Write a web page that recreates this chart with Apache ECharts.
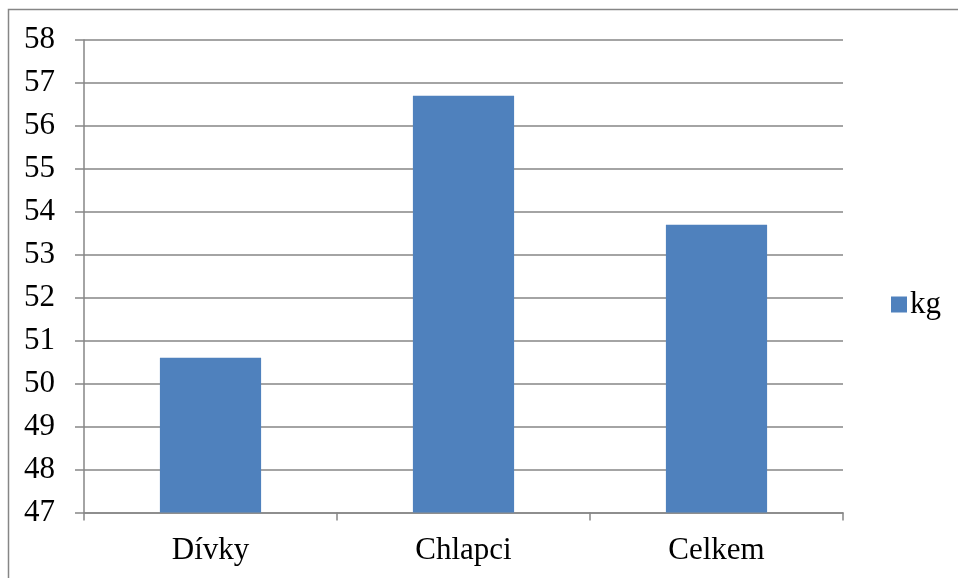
<!DOCTYPE html>
<html>
<head>
<meta charset="utf-8">
<script src="https://cdn.jsdelivr.net/npm/echarts@6/dist/echarts.min.js"></script>
<style>
  html, body { margin: 0; padding: 0; background: #fff; }
  #chart { width: 958px; height: 578px; }
</style>
</head>
<body>
<div id="chart"></div>
<script>
// Průměrná hmotnost (kg)
const categories = ['Dívky', 'Chlapci', 'Celkem'];
const kgValues = [50.6, 56.7, 53.7];
const seriesName = 'kg';
const yMin = 47;
const yMax = 58;
const yStep = 1;

const FONT = '"Liberation Serif", "Times New Roman", serif';
const LINE = '#868686';

const chart = echarts.init(document.getElementById('chart'), null, { renderer: 'canvas' });
chart.setOption({
  animation: false,
  backgroundColor: '#fff',
  textStyle: { fontFamily: FONT },
  graphic: [{
    type: 'rect',
    shape: { x: 8.5, y: 9.5, width: 1200, height: 1200 },
    style: { fill: 'none', stroke: LINE, lineWidth: 1.5 },
    silent: true
  }],
  grid: { left: 84, right: 115, top: 40, bottom: 65.5 },
  legend: {
    data: [seriesName],
    left: 886,
    top: 284,
    itemWidth: 16,
    itemHeight: 16,
    itemGap: 6,
    icon: 'rect',
    textStyle: { fontFamily: FONT, fontSize: 31, color: '#000', padding: [0, 0, 0, -2] }
  },
  xAxis: {
    type: 'category',
    data: categories,
    axisLine: { show: true, lineStyle: { color: LINE, width: 1.5 } },
    axisTick: { show: true, length: 8, lineStyle: { color: LINE, width: 1.5 } },
    axisLabel: { fontFamily: FONT, fontSize: 31, color: '#000', margin: 23 }
  },
  yAxis: {
    type: 'value',
    min: yMin,
    max: yMax,
    interval: yStep,
    axisLine: { show: true, lineStyle: { color: LINE, width: 1.5 } },
    axisTick: { show: true, length: 9, lineStyle: { color: LINE, width: 1.5 } },
    axisLabel: { fontFamily: FONT, fontSize: 31, color: '#000', margin: 29 },
    splitLine: { show: true, lineStyle: { color: LINE, width: 1.5 } }
  },
  series: [{
    name: seriesName,
    type: 'bar',
    data: kgValues,
    barWidth: '40%',
    itemStyle: { color: '#4F81BD' }
  }]
});
</script>
</body>
</html>
